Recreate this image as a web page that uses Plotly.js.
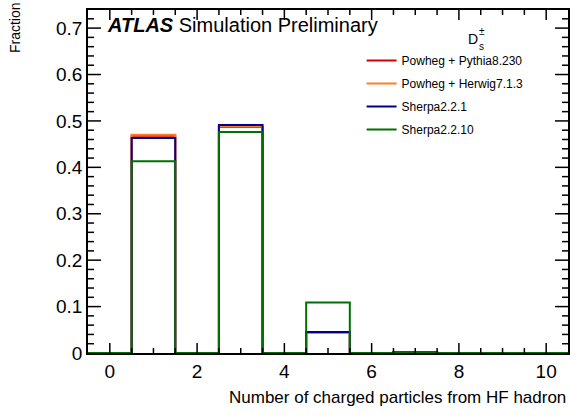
<!DOCTYPE html>
<html>
<head>
<meta charset="utf-8">
<script src="https://cdn.plot.ly/plotly-3.0.1.min.js"></script>
<style>html,body{margin:0;padding:0;background:#fff;}#chart{width:572px;height:418px;}</style>
</head>
<body>
<div id="chart"></div>
<script>
// Bin edges of the histogram (bins centred on 0..10)
const binEdges = [-0.5, 0.5, 1.5, 2.5, 3.5, 4.5, 5.5, 6.5, 7.5, 8.5, 9.5, 10.5];
// Fraction per bin (bins 0..10)
const pythia   = [0, 0.468, 0, 0.487, 0, 0.044, 0, 0.001, 0, 0, 0];
const herwig   = [0, 0.470, 0, 0.488, 0, 0.043, 0, 0.001, 0, 0, 0];
const sherpa221  = [0, 0.463, 0, 0.491, 0, 0.045, 0, 0.001, 0, 0, 0];
const sherpa2210 = [0, 0.413, 0, 0.476, 0, 0.109, 0, 0.002, 0, 0, 0];
const seriesNames = ["Powheg + Pythia8.230", "Powheg + Herwig7.1.3", "Sherpa2.2.1", "Sherpa2.2.10"];
const seriesColors = ["#d40000", "#ff7f1e", "#000090", "#007000"];
// Axis ticks
const xMajorTicks = [0, 2, 4, 6, 8, 10];
const yMajorTicks = [0, 0.1, 0.2, 0.3, 0.4, 0.5, 0.6, 0.7];
const yTickText = ["0", "0.1", "0.2", "0.3", "0.4", "0.5", "0.6", "0.7"];
const xMinorStep = 0.5;
const yMinorStep = 0.02;

const FONT = "Liberation Sans, Arial, Helvetica, sans-serif";
const X_RANGE = [-0.5, 10.5], Y_RANGE = [0, 0.739];
const PLOT_W = 480, PLOT_H = 343;

function stepTrace(vals, i) {
  const y = vals.concat([vals[vals.length - 1]]);
  return {
    type: "scatter", mode: "lines", x: binEdges, y: y,
    line: {shape: "hv", color: seriesColors[i], width: 2},
    name: seriesNames[i], legendgroup: "g" + i, hoverinfo: "skip"
  };
}
const data = [pythia, herwig, sherpa221, sherpa2210].map(stepTrace);

// Inside tick marks on all four sides (ROOT style): one small line trace per tick
const xPerPx = (X_RANGE[1] - X_RANGE[0]) / PLOT_W;
const yPerPx = (Y_RANGE[1] - Y_RANGE[0]) / PLOT_H;
function near(v, arr) { return arr.some(m => Math.abs(m - v) < 1e-6); }
function tickTrace(xs, ys) {
  data.push({type: "scatter", mode: "lines", x: xs, y: ys,
    line: {color: "#000", width: 1.5, simplify: false}, showlegend: false, hoverinfo: "skip", cliponaxis: false});
}
function xTick(v, px) {
  const d = px * yPerPx;
  tickTrace([v, v], [Y_RANGE[0], Y_RANGE[0] + d]);
  tickTrace([v, v], [Y_RANGE[1], Y_RANGE[1] - d]);
}
function yTick(v, px) {
  const d = px * xPerPx;
  tickTrace([X_RANGE[0], X_RANGE[0] + d], [v, v]);
  tickTrace([X_RANGE[1], X_RANGE[1] - d], [v, v]);
}
xMajorTicks.forEach(v => xTick(v, 10));
const nx = Math.round((X_RANGE[1] - X_RANGE[0]) / xMinorStep);
for (let k = 1; k < nx; k++) {
  const v = Math.round((X_RANGE[0] + k * xMinorStep) * 1000) / 1000;
  if (!near(v, xMajorTicks)) xTick(v, 5);
}
yMajorTicks.forEach(v => { if (v > 0) yTick(v, 13); });
for (let k = 1; k * yMinorStep < Y_RANGE[1]; k++) {
  const v = Math.round(k * yMinorStep * 1000) / 1000;
  if (!near(v, yMajorTicks)) yTick(v, 6);
}

const layout = {
  width: 572, height: 418,
  margin: {l: 88, r: 4, t: 10, b: 65},
  paper_bgcolor: "#fff", plot_bgcolor: "#fff",
  font: {family: FONT, color: "#000"},
  showlegend: true,
  legend: {
    x: 0.57, y: 0.895, xanchor: "left", yanchor: "top",
    bgcolor: "rgba(0,0,0,0)", borderwidth: 0,
    font: {family: FONT, size: 12, color: "#000"},
    tracegroupgap: 4, itemwidth: 30
  },
  xaxis: {
    range: X_RANGE, tickmode: "array", tickvals: xMajorTicks,
    showgrid: false, zeroline: false, showline: true, linecolor: "#000", linewidth: 1.5,
    mirror: true, ticks: "",
    tickfont: {family: FONT, size: 19, color: "#000"}
  },
  yaxis: {
    range: Y_RANGE, tickmode: "array", tickvals: yMajorTicks, ticktext: yTickText,
    showgrid: false, zeroline: false, showline: true, linecolor: "#000", linewidth: 1.5,
    mirror: true, ticks: "",
    tickfont: {family: FONT, size: 19, color: "#000"}
  },
  annotations: [
    {xref: "paper", yref: "paper", x: 1, y: -0.095, xanchor: "right", yanchor: "top",
     text: "Number of charged particles from HF hadron", showarrow: false,
     font: {family: FONT, size: 17, color: "#000"}},
    {xref: "paper", yref: "paper", x: -0.152, y: 0.9475, xanchor: "center", yanchor: "middle",
     text: "Fraction", textangle: -90, showarrow: false,
     font: {family: FONT, size: 14, color: "#000"}},
    {xref: "paper", yref: "paper", x: 0.035, y: 0.995, xanchor: "left", yanchor: "top",
     text: "<b><i>ATLAS</i></b> Simulation Preliminary", showarrow: false,
     font: {family: FONT, size: 20, color: "#000"}},
    {xref: "paper", yref: "paper", x: 0.787, y: 0.915, xanchor: "left", yanchor: "middle",
     text: "D", showarrow: false, font: {family: FONT, size: 14, color: "#000"}},
    {xref: "paper", yref: "paper", x: 0.81, y: 0.937, xanchor: "left", yanchor: "middle",
     text: "±", showarrow: false, font: {family: FONT, size: 10, color: "#000"}},
    {xref: "paper", yref: "paper", x: 0.81, y: 0.895, xanchor: "left", yanchor: "middle",
     text: "s", showarrow: false, font: {family: FONT, size: 10, color: "#000"}}
  ]
};

Plotly.newPlot("chart", data, layout, {displayModeBar: false});
</script>
</body>
</html>
